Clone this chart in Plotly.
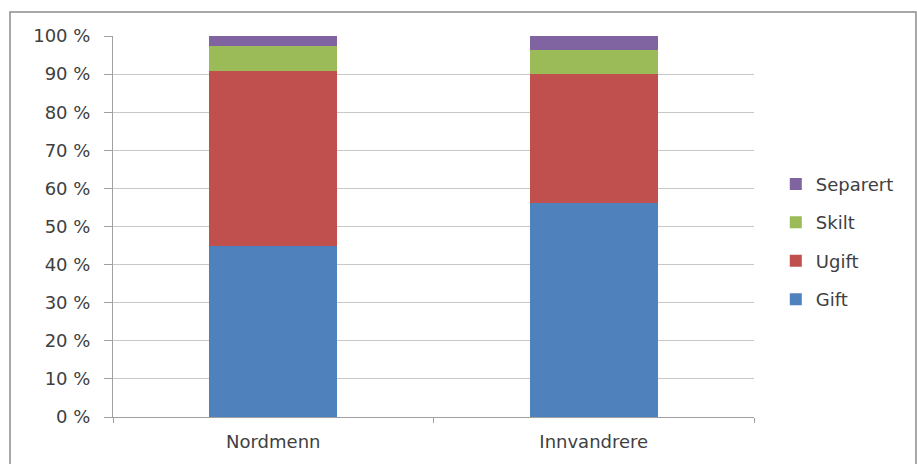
import plotly.graph_objects as go

# Marital status shares (%) for two population groups
groups = ["Nordmenn", "Innvandrere"]
gift = [44.8, 56.1]
ugift = [46.1, 34.0]
skilt = [6.5, 6.1]
separert = [2.6, 3.8]

y_ticks = [0, 10, 20, 30, 40, 50, 60, 70, 80, 90, 100]
y_labels = [f"{v} %" for v in y_ticks]

# (name, values, colour, legend rank: top of stack listed first)
series = [
    ("Gift", gift, "#4F81BD", 4),
    ("Ugift", ugift, "#C0504D", 3),
    ("Skilt", skilt, "#9BBB59", 2),
    ("Separert", separert, "#8064A2", 1),
]

fig = go.Figure()
for name, vals, color, rank in series:
    fig.add_trace(go.Bar(
        name=name, x=groups, y=vals,
        marker=dict(color=color, line=dict(width=0)),
        legendgroup=name,
        legendrank=rank,
    ))

font = dict(family="DejaVu Sans", size=18, color="#404040")

fig.update_layout(
    barmode="stack",
    bargap=0.6,
    width=917, height=464,
    margin=dict(l=113, r=163, t=36, b=45),
    paper_bgcolor="white",
    plot_bgcolor="white",
    font=font,
    showlegend=True,
    legend=dict(
        traceorder="grouped",
        tracegroupgap=12,
        x=1.034,
        xanchor="left",
        xref="paper",
        y=0.46,
        yanchor="middle",
        font=font,
        itemwidth=30,
        bgcolor="rgba(0,0,0,0)",
    ),
    xaxis=dict(
        type="category",
        tickson="boundaries",
        ticks="outside",
        ticklen=5,
        tickcolor="#A0A0A0",
        showline=True,
        linecolor="#A0A0A0",
        linewidth=1,
        showgrid=False,
        tickfont=font,
        ticklabelstandoff=8,
    ),
    yaxis=dict(
        range=[0, 100],
        tickvals=y_ticks,
        ticktext=y_labels,
        ticks="outside",
        ticklen=8,
        tickcolor="#A0A0A0",
        showline=True,
        linecolor="#A0A0A0",
        linewidth=1,
        showgrid=True,
        gridcolor="#C8C8C8",
        gridwidth=1,
        zeroline=False,
        tickfont=font,
        ticklabelstandoff=10,
    ),
    shapes=[
        dict(
            type="rect", xref="paper", yref="paper",
            x0=-0.1607, x1=1.2527, y0=-0.14, y1=1.0627,
            line=dict(color="#8C8C8C", width=1.5),
            fillcolor="rgba(0,0,0,0)",
            layer="below",
        )
    ],
)

fig.write_html("out.html")
